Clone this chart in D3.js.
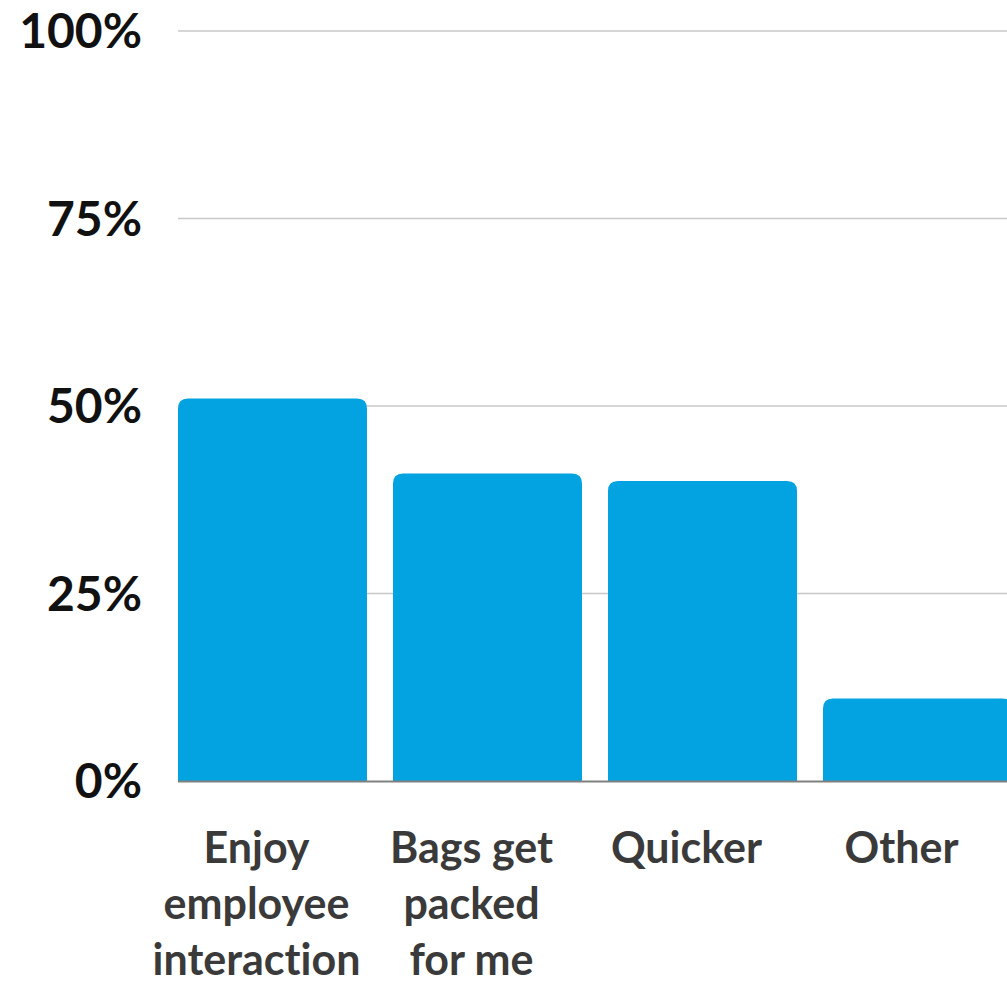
<!DOCTYPE html>
<html>
<head>
<meta charset="utf-8">
<script src="https://cdn.jsdelivr.net/npm/d3@7"></script>
<style>
  body { margin: 0; background: #fff; }
  svg { display: block; }
  text { font-variant-ligatures: none; font-feature-settings: "liga" 0, "dlig" 0; }
  .y-label { font-family: Lato, sans-serif; font-weight: 700; font-size: 48px; fill: #111; }
  .x-label { font-family: Lato, sans-serif; font-weight: 700; font-size: 43px; fill: #3a3a3a; }
</style>
</head>
<body>
<svg id="chart"></svg>
<script>
var width = 1007, height = 986;
var margin = {top: 31, right: 0, bottom: 205, left: 178};

// data
var categories = ["Enjoy employee interaction", "Bags get packed for me", "Quicker", "Other"];
var labelLines = [["Enjoy", "employee", "interaction"], ["Bags get", "packed", "for me"], ["Quicker"], ["Other"]];
var values = [51, 41, 40, 11];
var yTicks = [0, 25, 50, 75, 100];

var svg = d3.select("#chart")
    .attr("width", width)
    .attr("height", height);

var x = d3.scaleBand()
    .domain(categories)
    .range([margin.left, 1012])
    .paddingInner(0.121)
    .paddingOuter(0);

var y = d3.scaleLinear()
    .domain([0, 100])
    .range([height - margin.bottom, margin.top]);

// gridlines
svg.append("g")
  .selectAll("line")
  .data(yTicks.filter(function(d) { return d > 0; }))
  .join("line")
    .attr("x1", margin.left)
    .attr("x2", width)
    .attr("y1", function(d) { return y(d); })
    .attr("y2", function(d) { return y(d); })
    .attr("stroke", "#c8c8c8")
    .attr("stroke-width", 1.5);

// y labels
svg.append("g")
  .selectAll("text")
  .data(yTicks)
  .join("text")
    .attr("class", "y-label")
    .attr("x", 142)
    .attr("y", function(d) { return y(d); })
    .attr("dy", "0.36em")
    .attr("text-anchor", "end")
    .text(function(d) { return d + "%"; });

// bars with rounded tops
var r = 10;
function barPath(d, i) {
  var x0 = x(categories[i]), w = x.bandwidth();
  var y0 = y(d), y1 = y(0);
  return "M" + x0 + "," + y1 +
    "V" + (y0 + r) +
    "Q" + x0 + "," + y0 + " " + (x0 + r) + "," + y0 +
    "H" + (x0 + w - r) +
    "Q" + (x0 + w) + "," + y0 + " " + (x0 + w) + "," + (y0 + r) +
    "V" + y1 + "Z";
}

svg.append("g")
  .selectAll("path")
  .data(values)
  .join("path")
    .attr("d", barPath)
    .attr("fill", "#02a3e0");

// baseline
svg.append("line")
    .attr("x1", margin.left)
    .attr("x2", width)
    .attr("y1", y(0) + 0.5)
    .attr("y2", y(0) + 0.5)
    .attr("stroke", "#808080")
    .attr("stroke-width", 2);

// x labels
var xl = svg.append("g")
  .selectAll("text")
  .data(categories)
  .join("text")
    .attr("class", "x-label")
    .attr("text-anchor", "middle")
    .attr("x", function(d) { return x(d) + x.bandwidth() / 2 - 16; })
    .attr("y", y(0) + 82);

xl.selectAll("tspan")
  .data(function(d, i) { return labelLines[i]; })
  .join("tspan")
    .attr("x", function() { return d3.select(this.parentNode).attr("x"); })
    .attr("dy", function(d, i) { return i === 0 ? 0 : 56; })
    .text(function(d) { return d; });
</script>
</body>
</html>
